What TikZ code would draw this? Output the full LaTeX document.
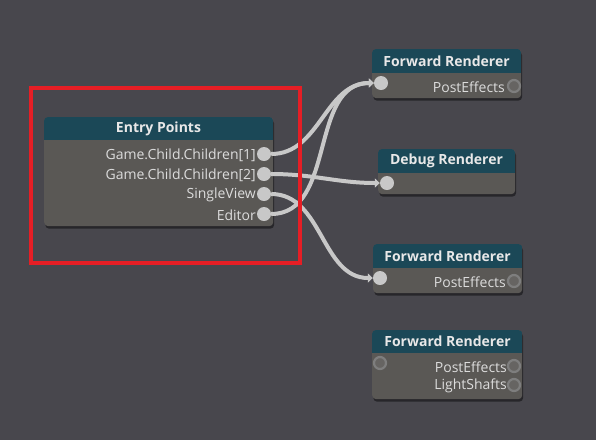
\documentclass[tikz,border=0pt]{standalone}
\usepackage{fontspec}
\setmainfont{Open Sans}
\usetikzlibrary{arrows.meta,shadows}
\definecolor{bg}{HTML}{48474D}
\definecolor{bodyc}{HTML}{5A5855}
\definecolor{hdrc}{HTML}{1B4857}
\definecolor{txtc}{HTML}{DCDCDC}
\definecolor{ttlc}{HTML}{E8E8E8}
\definecolor{wirec}{HTML}{C8C8C8}
\definecolor{ringc}{HTML}{7E7E7E}
\definecolor{holec}{HTML}{666462}
\definecolor{redc}{HTML}{E61E25}
\tikzset{
  box/.style={rectangle, rounded corners=4pt, fill=bodyc, inner sep=0pt, anchor=north west,
    drop shadow={shadow xshift=1pt, shadow yshift=-2.5pt, opacity=0.45, fill=black}},
  title/.style={font=\fontsize{14}{16}\selectfont\bfseries, text=ttlc, inner sep=0pt},
  lbl/.style={font=\fontsize{14}{16}\selectfont, text=txtc, anchor=east, inner sep=0pt},
  port/.style={circle, fill=wirec, minimum size=14pt, inner sep=0pt},
  hport/.style={circle, fill=holec, draw=ringc, line width=2.2pt, minimum size=12pt, inner sep=0pt},
  wire/.style={draw=wirec, line width=4pt, -{Triangle[width=9pt,length=5pt]}},
  hilite/.style={draw=redc, line width=4pt}
}
\begin{document}
\begin{tikzpicture}[x=1pt,y=-1pt]
\fill[bg] (0,0) rectangle (596,440);
\useasboundingbox (0,0) rectangle (596,440);

% Entry Points
\node[box, minimum width=229pt, minimum height=109pt] (ep) at (44,117) {};
\begin{scope}
\clip[rounded corners=4pt] (ep.north west) rectangle (ep.south east);
\fill[hdrc] (ep.north west) rectangle ([yshift=-23pt]ep.north east);
\end{scope}
\node[title] (ept) at (158.5,129) {Entry Points};
\node[lbl] (epl1) at (256,155) {Game.Child.Children[1]};
\node[lbl] (epl2) at (256,175) {Game.Child.Children[2]};
\node[lbl] (epl3) at (256,195) {SingleView};
\node[lbl] (epl4) at (256,215) {Editor};

% Forward Renderer 1
\node[box, minimum width=149pt, minimum height=49pt] (fra) at (372,49) {};
\begin{scope}
\clip[rounded corners=4pt] (fra.north west) rectangle (fra.south east);
\fill[hdrc] (fra.north west) rectangle ([yshift=-24pt]fra.north east);
\end{scope}
\node[title] (frat) at (446.5,61) {Forward Renderer};
\node[lbl] (fral) at (505,87) {PostEffects};
\node[hport] (frao) at (514,86) {};

% Debug Renderer
\node[box, minimum width=137pt, minimum height=45pt] (dbg) at (378,149) {};
\begin{scope}
\clip[rounded corners=4pt] (dbg.north west) rectangle (dbg.south east);
\fill[hdrc] (dbg.north west) rectangle ([yshift=-24pt]dbg.north east);
\end{scope}
\node[title] (dbgt) at (446.5,161) {Debug Renderer};

% Forward Renderer 2
\node[box, minimum width=149pt, minimum height=49pt] (frb) at (373,244) {};
\begin{scope}
\clip[rounded corners=4pt] (frb.north west) rectangle (frb.south east);
\fill[hdrc] (frb.north west) rectangle ([yshift=-24pt]frb.north east);
\end{scope}
\node[title] (frbt) at (447.5,256) {Forward Renderer};
\node[lbl] (frbl) at (506,282) {PostEffects};
\node[hport] (frbo) at (514,281) {};

% Forward Renderer 3
\node[box, minimum width=150pt, minimum height=69pt] (frc) at (372,330) {};
\begin{scope}
\clip[rounded corners=4pt] (frc.north west) rectangle (frc.south east);
\fill[hdrc] (frc.north west) rectangle ([yshift=-23pt]frc.north east);
\end{scope}
\node[title] (frct) at (447.5,341) {Forward Renderer};
\node[hport] (frci) at (380,363) {};
\node[lbl] (frcl1) at (507,367) {PostEffects};
\node[hport] (frco1) at (514,366) {};
\node[lbl] (frcl2) at (507,386) {LightShafts};
\node[hport] (frco2) at (514,385) {};

% ports with wires
\node[port] (epp1) at (264,154) {};
\node[port] (epp2) at (264,174) {};
\node[port] (epp3) at (264,194) {};
\node[port] (epp4) at (264,214) {};
\node[port] (frai) at (381,83) {};
\node[port] (dbgi) at (387,183) {};
\node[port] (frbi) at (380,278) {};

\draw[wire] (epp1) to[out=0,in=180] (frai);
\draw[wire] (epp4) to[out=0,in=180] (frai);
\draw[wire] (epp2) to[out=0,in=180] (dbgi);
\draw[wire] (epp3) to[out=0,in=180] (frbi);

\node[hilite, rectangle, minimum width=269pt, minimum height=175pt, anchor=north west, inner sep=0pt] (hl) at (29,86) {};
\end{tikzpicture}
\end{document}
